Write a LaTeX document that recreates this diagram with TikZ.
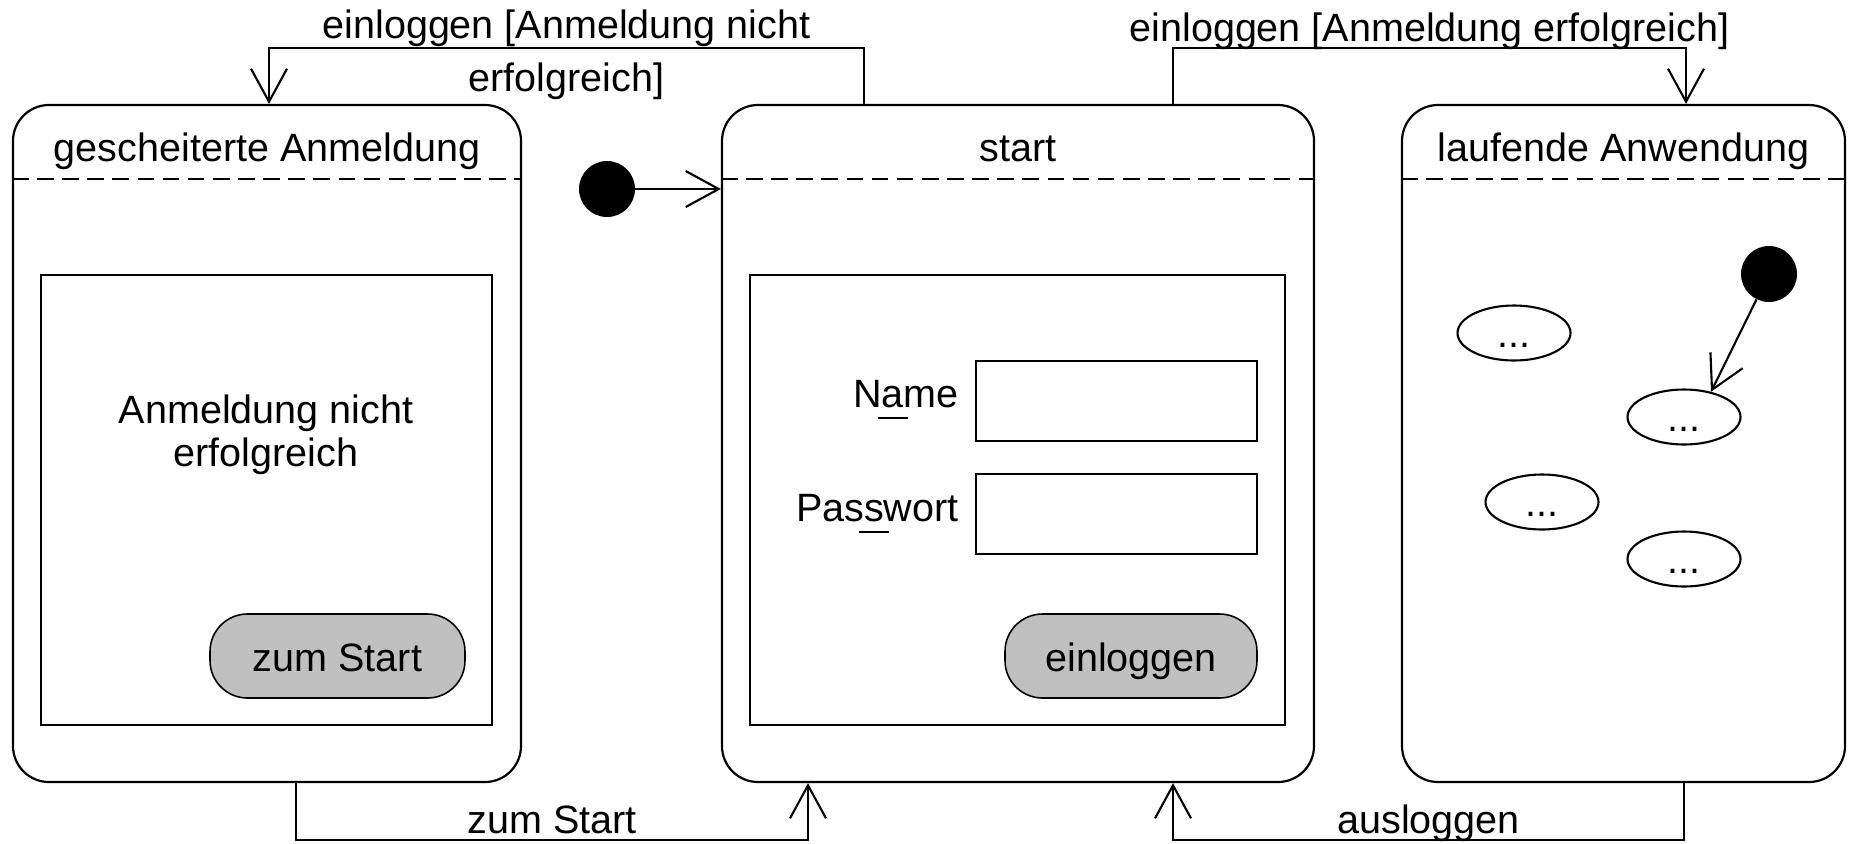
\documentclass[tikz,border=0pt]{standalone}
\usepackage{fontspec}
\setmainfont{Liberation Sans}
\usetikzlibrary{arrows.meta,positioning,calc,shapes.geometric}
\def\px{0.02cm}
\def\statecorner{0.72cm}
\def\titleoffset{58}
\newcommand{\mnem}[1]{\ooalign{#1\cr\hidewidth\smash{\rule[-0.3em]{0.75em}{1.1pt}}\hidewidth\cr}}
\definecolor{buttongray}{HTML}{C0C0C0}

\tikzset{
  state/.style={draw, line width=1.25pt, rounded corners=\statecorner, inner sep=0pt, minimum height=677*\px},
  separator/.style={line width=1.25pt, dash pattern=on 9.5pt off 4.8pt},
  panel/.style={draw, line width=1.2pt, inner sep=0pt, minimum height=450*\px},
  field/.style={draw, line width=1.2pt, inner sep=0pt, minimum width=281*\px, minimum height=80*\px},
  button/.style={draw, line width=0.9pt, fill=buttongray, rounded corners=0.75cm, inner sep=0pt,
    minimum height=84*\px, text height=18pt, text depth=0pt},
  substate/.style={draw, ellipse, line width=1.2pt, inner sep=0pt, minimum width=113*\px,
    minimum height=55*\px, text height=17pt, text depth=0pt},
  initial/.style={circle, fill, inner sep=0pt, minimum size=56*\px},
  trans/.style={line width=1.2pt, -{Straight Barb[length=0.66cm,width=0.72cm]}},
  edge label/.style={inner sep=1pt, text depth=2pt}
}

\begin{document}
\begin{tikzpicture}[x=\px, y=-\px, font=\fontsize{22.5pt}{27pt}\selectfont]
  \useasboundingbox (0,0) rectangle (1849,843);

  \node[state, minimum width=508*\px] (fail) at (267,443.5) {};
  \node[state, minimum width=592*\px] (start) at (1018,443.5) {};
  \node[state, minimum width=443*\px] (run) at (1623.5,443.5) {};

  \coordinate (sepline) at (0,179);
  \draw[separator] (fail.west |- sepline) -- (fail.east |- sepline);
  \draw[separator] (start.west |- sepline) -- (start.east |- sepline);
  \draw[separator] (run.west |- sepline) -- (run.east |- sepline);

  \node[anchor=base] (fail-title) at ($ (fail.north) + (0,\titleoffset) $) {gescheiterte Anmeldung};
  \node[anchor=base] (start-title) at ($ (start.north) + (0,\titleoffset) $) {start};
  \node[anchor=base] (run-title) at ($ (run.north) + (0,\titleoffset) $) {laufende Anwendung};

  \node[panel, minimum width=451*\px] (fail-panel) at (266.5,500) {};
  \node[align=center, font=\fontsize{22.5pt}{24.4pt}\selectfont] (fail-msg) at (266,435) {Anmeldung nicht\\erfolgreich};
  \node[button, minimum width=255*\px] (fail-btn) at (337.5,656) {zum Start};

  \node[panel, minimum width=535*\px] (start-panel) at (1017.5,500) {};
  \node[field] (name-field) at (1116.5,401) {};
  \node[field] (pw-field) at (1116.5,514) {};
  \node[anchor=base east, inner sep=0pt] (name-label) at ($ (name-field.west) + (-16,6) $) {N\mnem{a}me};
  \node[anchor=base east, inner sep=0pt] (pw-label) at ($ (pw-field.west) + (-16,7) $) {Pas\mnem{s}wort};
  \node[button, minimum width=252*\px] (login-btn) at (1131,656) {einloggen};

  \node[initial] (start-init) at (607,189) {};
  \draw[trans] (start-init) -- (start-init -| start.west);

  \node[initial] (run-init) at (1769,274) {};
  \node[substate] (sub-a) at (1514,333) {...};
  \node[substate] (sub-b) at (1684,417) {...};
  \node[substate] (sub-c) at (1542,502) {...};
  \node[substate] (sub-d) at (1684,559) {...};
  \draw[trans] (run-init) -- (sub-b.43);

  \coordinate (fail-loop-a) at (864,48);
  \coordinate (fail-loop-b) at (269,48);
  \draw[trans] (fail-loop-a |- start.north) -- (fail-loop-a)
    -- node[align=center, yshift=-7*\px, font=\fontsize{22.5pt}{30pt}\selectfont] (fail-label) {einloggen [Anmeldung nicht\\erfolgreich]} (fail-loop-b)
    -- (fail-loop-b |- fail.north);

  \coordinate (run-loop-a) at (1173,48);
  \coordinate (run-loop-b) at (1686,48);
  \draw[trans] (run-loop-a |- start.north) -- (run-loop-a)
    -- node[edge label, above] (run-label) {einloggen [Anmeldung erfolgreich]} (run-loop-b)
    -- (run-loop-b |- run.north);

  \coordinate (back-loop-a) at (296,840);
  \coordinate (back-loop-b) at (808,840);
  \draw[trans] (back-loop-a |- fail.south) -- (back-loop-a)
    -- node[edge label, above] (back-label) {zum Start} (back-loop-b)
    -- (back-loop-b |- start.south);

  \coordinate (logout-loop-a) at (1684,840);
  \coordinate (logout-loop-b) at (1173,840);
  \draw[trans] (logout-loop-a |- run.south) -- (logout-loop-a)
    -- node[edge label, above] (logout-label) {ausloggen} (logout-loop-b)
    -- (logout-loop-b |- start.south);

\end{tikzpicture}
\end{document}
